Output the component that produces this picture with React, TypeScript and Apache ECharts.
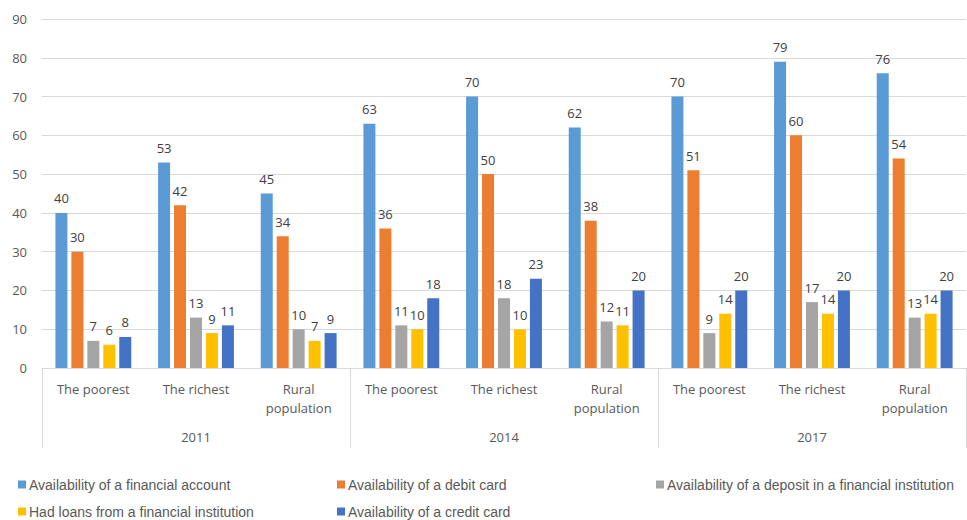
import React, { useEffect, useRef } from "react";
import * as echarts from "echarts";

const categories = [
  "The poorest", "The richest", "Rural\npopulation",
  "The poorest", "The richest", "Rural\npopulation",
  "The poorest", "The richest", "Rural\npopulation",
];
const years = ["2011", "2014", "2017"];
const seriesNames = [
  "Availability of a financial account",
  "Availability of a debit card",
  "Availability of a deposit in a financial institution",
  "Had loans from a financial institution",
  "Availability of a credit card",
];
const account = [40, 53, 45, 63, 70, 62, 70, 79, 76];
const debit = [30, 42, 34, 36, 50, 38, 51, 60, 54];
const deposit = [7, 13, 10, 11, 18, 12, 9, 17, 13];
const loans = [6, 9, 7, 10, 10, 11, 14, 14, 14];
const credit = [8, 11, 9, 18, 23, 20, 20, 20, 20];
const colors = ["#5B9BD5", "#ED7D31", "#A5A5A5", "#FFC000", "#4472C4"];
const yTicks = { min: 0, max: 90, interval: 10 };

const legendPos = [
  { left: 18, top: 477 },
  { left: 337, top: 477 },
  { left: 656, top: 477 },
  { left: 18, top: 504 },
  { left: 337, top: 504 },
];

export default function App() {
  const ref = useRef<HTMLDivElement>(null);
  useEffect(() => {
    const chart = echarts.init(ref.current!, null, { renderer: "svg" });
    const values = [account, debit, deposit, loans, credit];
    const font = "'Open Sans', sans-serif";
    chart.setOption({
      animation: false,
      color: colors,
      textStyle: { fontFamily: font },
      grid: { left: 42, right: 1, top: 19, bottom: 152, containLabel: false },
      legend: seriesNames.map((n, i) => ({
        data: [n],
        left: legendPos[i].left,
        top: legendPos[i].top,
        padding: 0,
        itemWidth: 8,
        itemHeight: 8,
        itemGap: 3,
        icon: "rect",
        textStyle: {
          fontFamily: "'Liberation Sans Narrow', 'Arial Narrow', sans-serif",
          fontSize: 14,
          lineHeight: 15,
          color: "#595959",
          padding: [0, 0, 0, -2],
        },
        selectedMode: false,
      })),
      xAxis: [
        {
          type: "category",
          data: categories,
          axisLine: { show: true, lineStyle: { color: "#D9D9D9", width: 1 } },
          axisTick: { show: false },
          axisLabel: {
            color: "#595959",
            fontSize: 13,
            fontFamily: font,
            margin: 11,
            lineHeight: 19,
            interval: 0,
          },
        },
        {
          type: "category",
          data: years,
          position: "bottom",
          axisLine: { show: false },
          axisTick: {
            show: true,
            length: 80,
            lineStyle: { color: "#D9D9D9", width: 1 },
          },
          axisLabel: {
            color: "#595959",
            fontSize: 13,
            fontFamily: font,
            margin: 62,
            interval: 0,
          },
        },
      ],
      yAxis: {
        type: "value",
        ...yTicks,
        axisLine: { show: false },
        axisTick: { show: false },
        splitLine: { lineStyle: { color: "#D9D9D9", width: 1 } },
        axisLabel: { color: "#595959", fontSize: 13, fontFamily: font, margin: 15 },
      },
      series: values.map((v, i) => ({
        name: seriesNames[i],
        type: "bar",
        data: v,
        xAxisIndex: 0,
        barWidth: 12,
        barGap: "33%",
        itemStyle: { color: colors[i] },
        label: {
          show: true,
          position: "top",
          distance: 8,
          color: "#404040",
          fontSize: 13,
          fontFamily: font,
        },
      })),
    });
    return () => chart.dispose();
  }, []);
  return (
    <div
      ref={ref}
      style={{ position: "absolute", left: 0, top: 0, width: 967, height: 520 }}
    />
  );
}
